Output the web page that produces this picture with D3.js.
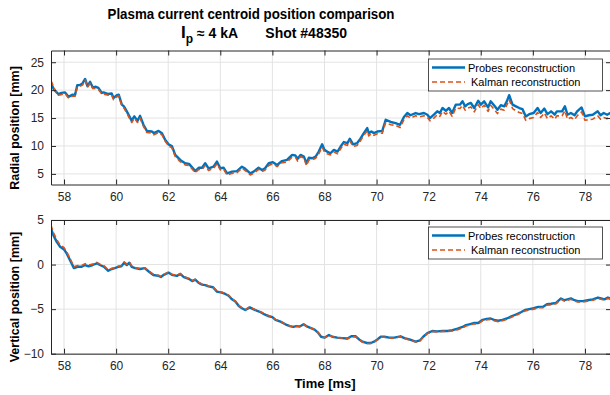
<!DOCTYPE html>
<html><head><meta charset="utf-8">
<script src="https://cdn.jsdelivr.net/npm/d3@7"></script>
<style>
html,body{margin:0;padding:0;background:#fff;}
svg{display:block;font-family:"Liberation Sans",Arial,Helvetica,sans-serif;}
</style></head>
<body><svg id="chart" width="610" height="395"></svg>
<script>
const radialTime = [57.5,57.6,57.7,57.78,57.9,58.04,58.17,58.33,58.42,58.51,58.61,58.71,58.81,58.9,59.0,59.1,59.22,59.32,59.45,59.52,59.7,59.83,59.9,60.03,60.1,60.22,60.3,60.41,60.51,60.6,60.64,60.7,60.82,60.92,61.05,61.18,61.37,61.45,61.63,61.76,61.88,62.01,62.14,62.27,62.46,62.65,62.8,63.04,63.17,63.3,63.42,63.55,63.74,63.87,64.0,64.13,64.26,64.45,64.64,64.83,64.96,65.15,65.28,65.47,65.6,65.72,65.86,66.02,66.18,66.37,66.56,66.76,66.88,66.97,67.08,67.21,67.31,67.4,67.53,67.66,67.78,67.91,68.0,68.1,68.23,68.36,68.5,68.62,68.74,68.88,68.97,69.1,69.25,69.38,69.51,69.64,69.7,69.8,69.9,70.03,70.22,70.35,70.54,70.73,70.9,71.05,71.18,71.3,71.5,71.63,71.82,71.95,72.05,72.2,72.33,72.43,72.53,72.66,72.78,72.9,73.04,73.2,73.3,73.4,73.5,73.62,73.75,73.9,74.0,74.13,74.28,74.38,74.54,74.64,74.77,74.9,75.0,75.09,75.22,75.35,75.48,75.6,75.73,75.86,76.03,76.18,76.3,76.44,76.56,76.7,76.84,76.92,77.12,77.23,77.33,77.46,77.6,77.7,77.87,78.0,78.15,78.3,78.49,78.6,78.72,78.85,79.0];
const radialProbes = [21.3,20.2,19.7,19.3,19.5,19.6,18.8,19.2,19.1,20.9,20.9,21.2,22.0,20.7,21.5,20.5,20.6,20.4,19.5,19.6,19.3,19.4,18.6,19.1,19.2,17.4,17.1,16.2,15.3,14.5,14.9,15.3,14.5,15.4,13.8,12.7,12.6,12.3,12.7,12.3,11.1,10.3,10.0,8.4,7.5,6.9,6.8,5.5,6.1,6.1,6.9,6.0,6.3,7.2,6.0,6.1,5.1,5.4,5.5,6.3,5.9,5.1,5.4,6.1,5.7,6.0,6.9,7.1,6.6,7.3,7.5,8.4,8.3,7.7,8.4,8.1,6.9,7.9,7.8,8.1,9.0,10.3,9.3,9.0,8.7,9.3,9.0,9.9,10.7,10.5,11.3,10.3,10.5,11.3,12.3,13.2,12.3,12.6,12.3,12.6,12.7,14.7,14.3,14.1,13.8,15.2,15.9,15.5,15.9,15.7,15.9,15.6,15.0,15.6,16.2,15.9,16.8,16.3,16.8,15.9,17.4,17.4,18.0,17.1,17.5,17.7,16.8,18.1,17.4,18.0,16.9,18.0,17.1,16.5,17.3,17.1,18.0,19.1,17.4,17.1,16.8,16.6,15.3,15.7,15.9,16.8,15.9,16.7,15.7,16.2,15.6,16.2,16.2,17.1,15.6,15.9,15.5,16.2,16.9,15.3,15.5,15.6,16.2,15.5,15.9,15.6,16.0];
const radialKalman = [21.7,20.6,19.6,19.1,19.2,19.4,18.6,18.9,18.9,20.5,20.7,20.9,21.8,20.5,21.2,20.3,20.3,20.1,19.3,19.3,19.1,19.1,18.3,18.8,19.0,17.2,16.8,15.9,15.0,14.2,14.5,15.0,14.2,15.0,13.5,12.4,12.3,12.0,12.4,12.0,10.9,10.0,9.7,8.1,7.2,6.6,6.5,5.2,5.8,5.8,6.5,5.6,6.0,6.8,5.7,5.8,4.8,5.1,5.2,6.0,5.6,4.8,5.1,5.8,5.4,5.7,6.5,6.8,6.3,7.0,7.1,8.0,8.0,7.3,8.1,7.8,6.5,7.5,7.5,7.8,8.6,9.8,8.9,8.6,8.4,8.9,8.6,9.5,10.3,10.1,10.9,9.9,10.1,10.9,11.9,12.7,11.8,12.2,11.9,12.2,12.3,14.2,13.8,13.7,13.3,14.7,15.4,15.0,15.4,15.2,15.4,15.1,14.5,15.0,15.6,15.3,16.2,15.7,16.2,15.3,16.8,16.7,17.3,16.4,16.8,17.0,16.1,17.4,16.7,17.3,16.2,17.3,16.4,15.8,16.6,16.4,17.3,18.3,16.7,16.3,16.0,15.8,14.6,14.9,15.1,16.0,15.1,15.9,14.9,15.4,14.8,15.4,15.4,16.3,14.8,15.1,14.7,15.4,16.1,14.6,14.7,14.8,15.4,14.8,15.1,14.9,15.3];

const verticalTime = [57.5,57.59,57.72,57.85,58.0,58.1,58.23,58.38,58.52,58.68,58.81,58.94,59.1,59.26,59.38,59.54,59.7,59.83,59.95,60.08,60.2,60.31,60.41,60.51,60.6,60.73,60.92,61.1,61.24,61.43,61.63,61.72,61.83,62.01,62.14,62.33,62.46,62.6,62.79,62.92,63.04,63.17,63.3,63.42,63.55,63.72,63.87,64.06,64.19,64.32,64.45,64.58,64.71,64.83,64.96,65.13,65.26,65.42,65.55,65.7,65.87,66.0,66.12,66.31,66.5,66.67,66.8,66.92,67.05,67.2,67.3,67.46,67.62,67.74,67.87,68.0,68.17,68.3,68.49,68.68,68.88,69.03,69.2,69.33,69.46,69.63,69.78,69.9,70.03,70.16,70.3,70.49,70.68,70.92,71.07,71.26,71.5,71.67,71.79,71.95,72.14,72.33,72.53,72.72,72.91,73.11,73.3,73.43,73.56,73.75,73.9,74.07,74.23,74.38,74.51,74.67,74.83,75.0,75.15,75.35,75.54,75.7,75.86,76.03,76.21,76.38,76.54,76.7,76.89,77.08,77.21,77.33,77.46,77.6,77.72,77.92,78.1,78.3,78.5,78.62,78.75,78.88,79.0];
const verticalProbes = [4.05,3.3,2.55,2.0,1.7,1.25,0.5,-0.4,-0.25,-0.25,-0.05,-0.2,-0.05,0.14,-0.05,-0.25,-0.7,-0.5,-0.4,-0.25,-0.2,0.2,-0.05,0.2,-0.25,-0.4,-0.5,-0.4,-0.75,-1.17,-1.27,-1.4,-1.15,-0.9,-1.15,-1.27,-1.05,-1.4,-1.6,-1.85,-1.7,-2.05,-2.25,-2.3,-2.45,-2.55,-3.04,-3.15,-3.3,-3.5,-3.9,-4.15,-4.65,-4.9,-5.1,-4.8,-5.0,-5.2,-5.35,-5.6,-5.8,-5.9,-6.2,-6.4,-6.7,-6.9,-7.0,-6.9,-6.95,-6.7,-6.9,-7.1,-7.3,-7.6,-8.1,-8.2,-7.9,-8.1,-8.2,-8.25,-8.3,-8.05,-8.05,-8.4,-8.65,-8.8,-8.8,-8.65,-8.4,-8.1,-8.1,-8.2,-8.2,-8.05,-8.25,-8.4,-8.65,-8.5,-8.1,-7.7,-7.45,-7.5,-7.45,-7.45,-7.35,-7.2,-7.0,-6.8,-6.7,-6.55,-6.55,-6.2,-6.1,-6.05,-6.2,-6.3,-6.2,-6.05,-5.85,-5.6,-5.35,-5.1,-5.0,-4.9,-4.75,-4.75,-4.45,-4.4,-4.3,-3.8,-4.0,-3.9,-3.8,-4.0,-4.1,-4.1,-4.0,-3.9,-3.7,-3.8,-3.9,-3.7,-3.8];
const verticalKalman = [4.4,3.6,2.8,2.2,1.9,1.45,0.7,-0.25,-0.1,-0.1,0.1,-0.05,0.05,0.25,0.05,-0.15,-0.6,-0.45,-0.35,-0.2,-0.1,0.3,0.05,0.3,-0.15,-0.35,-0.45,-0.35,-0.7,-1.1,-1.2,-1.35,-1.1,-0.85,-1.1,-1.2,-1.0,-1.35,-1.55,-1.8,-1.65,-2.0,-2.2,-2.25,-2.4,-2.5,-3.0,-3.1,-3.25,-3.45,-3.85,-4.1,-4.6,-4.85,-5.05,-4.75,-4.95,-5.15,-5.3,-5.55,-5.75,-5.9,-6.15,-6.4,-6.7,-6.9,-7.0,-6.9,-6.95,-6.7,-6.9,-7.1,-7.3,-7.6,-8.05,-8.2,-7.95,-8.1,-8.2,-8.25,-8.35,-8.1,-8.1,-8.4,-8.7,-8.85,-8.85,-8.7,-8.45,-8.15,-8.15,-8.25,-8.25,-8.1,-8.3,-8.45,-8.7,-8.55,-8.15,-7.75,-7.5,-7.55,-7.5,-7.5,-7.45,-7.3,-7.1,-6.9,-6.8,-6.65,-6.65,-6.3,-6.2,-6.15,-6.3,-6.4,-6.3,-6.15,-5.95,-5.7,-5.45,-5.2,-5.1,-5.0,-4.85,-4.85,-4.55,-4.5,-4.4,-3.9,-4.1,-4.0,-3.9,-4.1,-4.2,-4.2,-4.1,-4.0,-3.8,-3.9,-4.0,-3.8,-3.9];

const xTicks = [58,60,62,64,66,68,70,72,74,76,78];
const radialTicks = [5,10,15,20,25];
const verticalTicks = [-10,-5,0,5];
const seriesNames = ["Probes reconstruction","Kalman reconstruction"];
const titleLine1 = "Plasma current centroid position comparison";

const svg = d3.select("#chart");
const axisCol = "#262626", gridCol = "#e3e3e3";
const blue = "#0072BD", orange = "#D95319";
const x = d3.scaleLinear().domain([57.5,79]).range([51,611]);

function panel(opts){
  const y = d3.scaleLinear().domain(opts.ydom).range([opts.bottom, opts.top]);
  const g = svg.append("g");
  const cid = "clip"+opts.id;
  svg.append("clipPath").attr("id",cid).append("rect")
    .attr("x",51).attr("y",opts.top).attr("width",560).attr("height",opts.bottom-opts.top);
  g.append("g").selectAll("line").data(xTicks).join("line")
    .attr("x1",d=>x(d)).attr("x2",d=>x(d)).attr("y1",opts.top).attr("y2",opts.bottom)
    .attr("stroke",gridCol).attr("stroke-width",1);
  g.append("g").selectAll("line").data(opts.yticks).join("line")
    .attr("x1",51).attr("x2",611).attr("y1",d=>y(d)).attr("y2",d=>y(d))
    .attr("stroke",gridCol).attr("stroke-width",1);
  const gl = g.append("g").attr("clip-path",`url(#${cid})`);
  const line = d3.line().x(d=>x(d[0])).y(d=>y(d[1]));
  gl.append("path").datum(opts.t.map((t,i)=>[t,opts.a[i]]))
    .attr("d",line).attr("fill","none").attr("stroke",blue).attr("stroke-width",2.4).attr("stroke-linejoin","round");
  gl.append("path").datum(opts.t.map((t,i)=>[t,opts.b[i]]))
    .attr("d",line).attr("fill","none").attr("stroke",orange).attr("stroke-width",1.6)
    .attr("stroke-dasharray","5,3").attr("stroke-linejoin","round");
  const ax = g.append("g").attr("transform",`translate(0,${opts.bottom})`)
    .call(d3.axisBottom(x).tickValues(xTicks).tickSize(-5).tickPadding(8).tickSizeOuter(0));
  const axT = g.append("g").attr("transform",`translate(0,${opts.top})`)
    .call(d3.axisTop(x).tickValues(xTicks).tickSize(-5).tickFormat("").tickSizeOuter(0));
  const ay = g.append("g").attr("transform",`translate(51,0)`)
    .call(d3.axisLeft(y).tickValues(opts.yticks).tickSize(-5).tickPadding(7).tickSizeOuter(0));
  const ayR = g.append("g").attr("transform",`translate(611,0)`)
    .call(d3.axisRight(y).tickValues(opts.yticks).tickSize(-5).tickFormat("").tickSizeOuter(0));
  [ax,axT,ay,ayR].forEach(a=>{
    a.select(".domain").attr("stroke",axisCol).attr("stroke-width",1);
    a.selectAll(".tick line").attr("stroke",axisCol);
    a.selectAll("text").attr("fill",axisCol).style("font-size","12px")
      .style("font-family",'"Liberation Sans",Arial,sans-serif');
  });
  g.append("text").attr("transform",`translate(${opts.ylx},${opts.yly}) rotate(-90)`)
    .attr("text-anchor","middle").attr("font-weight","bold").attr("font-size","12.5px")
    .attr("fill","#000").text(opts.ylabel);
  const lg = g.append("g");
  lg.append("rect").attr("x",428.5).attr("y",opts.legTop).attr("width",174).attr("height",32)
    .attr("fill","#fff").attr("stroke",axisCol).attr("stroke-width",0.8);
  const rows = [opts.legTop+8.5, opts.legTop+23];
  lg.append("line").attr("x1",432).attr("x2",465).attr("y1",rows[0]).attr("y2",rows[0])
    .attr("stroke",blue).attr("stroke-width",2.4);
  lg.append("line").attr("x1",432).attr("x2",465).attr("y1",rows[1]).attr("y2",rows[1])
    .attr("stroke",orange).attr("stroke-width",1.6).attr("stroke-dasharray","5,3");
  lg.append("text").attr("x",468).attr("y",rows[0]+4).attr("font-size","11px").attr("fill","#000").text(seriesNames[0]);
  lg.append("text").attr("x",471).attr("y",rows[1]+4).attr("font-size","11px").attr("fill","#000").text(seriesNames[1]);
}

panel({id:"r",top:50.5,bottom:184.5,ydom:[3.1,27.1],yticks:radialTicks,t:radialTime,a:radialProbes,b:radialKalman,
  ylabel:"Radial position [mm]",ylx:19,yly:128,legTop:59});
panel({id:"v",top:220,bottom:353.7,ydom:[-10,5],yticks:verticalTicks,t:verticalTime,a:verticalProbes,b:verticalKalman,
  ylabel:"Vertical position [mm]",ylx:19,yly:297,legTop:227});

svg.append("text").attr("x",251).attr("y",19).attr("text-anchor","middle")
  .attr("font-weight","bold").attr("font-size","14px").attr("fill","#000")
  .attr("textLength",287).attr("lengthAdjust","spacingAndGlyphs").text(titleLine1);
const t2 = svg.append("text").attr("x",264).attr("y",38).attr("text-anchor","middle")
  .attr("font-weight","bold").attr("font-size","14px").attr("fill","#000");
t2.append("tspan").attr("font-size","17px").text("I");
t2.append("tspan").attr("dy",5).attr("font-size","12px").text("p");
t2.append("tspan").attr("dy",-5).text(" \u2248 4 kA\u00a0\u00a0\u00a0\u00a0\u00a0\u00a0\u00a0Shot #48350");
svg.append("text").attr("x",325).attr("y",388).attr("text-anchor","middle")
  .attr("font-weight","bold").attr("font-size","13px").attr("fill","#000").text("Time [ms]");
</script></body></html>
